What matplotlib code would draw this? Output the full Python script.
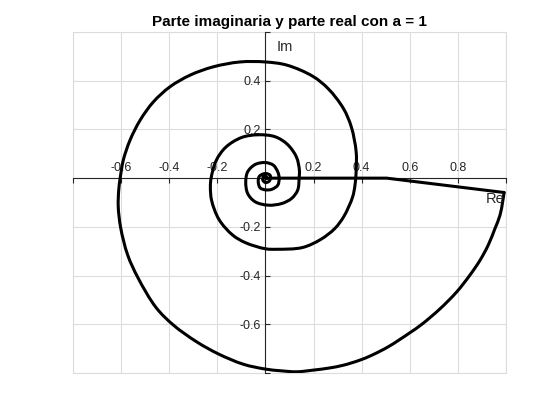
import matplotlib
matplotlib.use("Agg")
import matplotlib.pyplot as plt
import numpy as np
from matplotlib.patches import Rectangle, PathPatch
from matplotlib.path import Path

plt.rcParams['font.family'] = ['Liberation Sans', 'DejaVu Sans']

# Spiral points (real part, imaginary part), outer end -> centre
re_vals = [0.992, 0.986, 0.975, 0.954, 0.926, 0.892, 0.850, 0.795, 0.725,
           0.650, 0.600, 0.511, 0.442, 0.393, 0.324, 0.262, 0.200, 0.130, 0.065, 0.000,
           -0.092, -0.195, -0.286, -0.383, -0.455, -0.530, -0.573, -0.602, -0.612, -0.610,
           -0.604, -0.591, -0.563, -0.521, -0.466, -0.397, -0.313, -0.217, -0.106, 0.000,
           0.089, 0.197, 0.262, 0.324, 0.357, 0.377, 0.377,
           0.372, 0.362, 0.326, 0.288, 0.229, 0.153, 0.048, 0.000, -0.083, -0.136,
           -0.193, -0.224, -0.229, -0.226, -0.205, -0.165, -0.099, -0.030, 0.040, 0.092,
           0.129, 0.141,
           0.140, 0.134, 0.109, 0.068, 0.012, -0.043, -0.074, -0.082, -0.074, -0.043,
           0.000, 0.033, 0.051, 0.057,
           0.051, 0.026, 0.000, -0.022, -0.030, -0.025, 0.000, 0.019, 0.021,
           0.015, 0.000, -0.011, -0.009, 0.000, 0.006, 0.003, 0.000]
im_vals = [-0.059, -0.097, -0.152, -0.207, -0.275, -0.337, -0.398, -0.467, -0.537,
           -0.600, -0.635, -0.692, -0.727, -0.747, -0.768, -0.780, -0.788, -0.795, -0.791, -0.784,
           -0.764, -0.722, -0.672, -0.603, -0.531, -0.409, -0.315, -0.203, -0.118, -0.049,
           0.000, 0.074, 0.156, 0.238, 0.313, 0.375, 0.423, 0.457, 0.477, 0.477,
           0.464, 0.418, 0.366, 0.286, 0.210, 0.108, 0.030,
           -0.030, -0.078, -0.157, -0.207, -0.252, -0.285, -0.292, -0.290, -0.265, -0.234,
           -0.170, -0.091, -0.036, 0.000, 0.072, 0.127, 0.167, 0.178, 0.170, 0.138,
           0.086, 0.033,
           0.000, -0.049, -0.083, -0.104, -0.111, -0.097, -0.063, -0.015, 0.026, 0.056,
           0.064, 0.053, 0.026, 0.000,
           -0.029, -0.046, -0.048, -0.040, -0.015, 0.008, 0.019, 0.012, 0.000,
           -0.013, -0.018, -0.008, 0.005, 0.007, 0.002, -0.002, 0.000]

# Straight closing part: centre -> kink on the real axis -> outer end
re_line = [0.000, 0.504, 0.992]
im_line = [0.000, 0.000, -0.059]

x_ticks = [-0.8, -0.6, -0.4, -0.2, 0.0, 0.2, 0.4, 0.6, 0.8, 1.0]
x_tick_labels = ['', '-0.6', '-0.4', '-0.2', '', '0.2', '0.4', '0.6', '0.8', '']
y_ticks = [-0.8, -0.6, -0.4, -0.2, 0.0, 0.2, 0.4, 0.6]
y_tick_labels = ['', '-0.6', '-0.4', '-0.2', '', '0.2', '0.4', '']

title_text = 'Parte imaginaria y parte real con a = 1'

fig = plt.figure(figsize=(5.6, 4.2), dpi=100)
ax = fig.add_axes([0.1304, 0.1119, 0.7732, 0.8119])


def smooth_path(xs, ys, alpha=0.5):
    """Smooth (centripetal Catmull-Rom) Bezier rendering through the given points."""
    p = np.column_stack([xs, ys]).astype(float)
    n = len(p)
    verts = [p[0]]
    codes = [Path.MOVETO]
    for i in range(n - 1):
        p1, p2 = p[i], p[i + 1]
        d2 = max(np.hypot(*(p2 - p1)), 1e-9) ** alpha
        if i > 0:
            p0 = p[i - 1]
            d1 = max(np.hypot(*(p1 - p0)), 1e-9) ** alpha
            c1 = (d1 ** 2 * p2 - d2 ** 2 * p0 + (2 * d1 ** 2 + 3 * d1 * d2 + d2 ** 2) * p1) \
                / (3 * d1 * (d1 + d2))
        else:
            c1 = p1 + (p2 - p1) / 3.0
        if i + 2 < n:
            p3 = p[i + 2]
            d3 = max(np.hypot(*(p3 - p2)), 1e-9) ** alpha
            c2 = (d3 ** 2 * p1 - d2 ** 2 * p3 + (2 * d3 ** 2 + 3 * d3 * d2 + d2 ** 2) * p2) \
                / (3 * d3 * (d3 + d2))
        else:
            c2 = p2 - (p2 - p1) / 3.0
        verts += [c1, c2, p2]
        codes += [Path.CURVE4] * 3
    return Path(verts, codes)


ax.add_patch(PathPatch(smooth_path(re_vals, im_vals), fill=False, edgecolor='black',
                       lw=2.2, capstyle='round', joinstyle='round', zorder=3))
ax.plot(re_line, im_line, color='black', lw=2.2, solid_joinstyle='round',
        solid_capstyle='round', zorder=3)

ax.set_xlim(-0.8, 1.0)
ax.set_ylim(-0.8, 0.6)

grid_c = '#dcdcdc'
ax.set_xticks(x_ticks)
ax.set_xticklabels(x_tick_labels)
ax.set_yticks(y_ticks)
ax.set_yticklabels(y_tick_labels)
ax.grid(True, color=grid_c, lw=0.8, zorder=0)
ax.set_axisbelow(True)

# axes through origin
ax.spines['top'].set_position(('data', 0))
ax.spines['left'].set_position(('data', 0))
ax.spines['bottom'].set_visible(False)
ax.spines['right'].set_visible(False)
for s in ('top', 'left'):
    ax.spines[s].set_color('#262626')
    ax.spines[s].set_linewidth(0.8)
ax.xaxis.set_ticks_position('top')
ax.xaxis.set_label_position('top')
ax.yaxis.set_ticks_position('left')
ax.tick_params(axis='x', direction='in', length=3.5, width=0.8, pad=3.2,
               labelsize=9, colors='#262626')
ax.tick_params(axis='y', direction='in', length=3.5, width=0.8, pad=3.5,
               labelsize=9, colors='#262626')

ax.add_patch(Rectangle((0, 0), 1, 1, transform=ax.transAxes, fill=False,
                       edgecolor=grid_c, lw=0.8, clip_on=False, zorder=0))

ax.text(0.046, 0.538, 'Im', fontsize=10.5, color='#262626', ha='left', va='center')
ax.text(0.992, -0.085, 'Re', fontsize=10.5, color='#262626', ha='right', va='center')

ax.set_title(title_text, fontsize=11, fontweight='bold', pad=4)

fig.savefig('out.png', dpi=100)
